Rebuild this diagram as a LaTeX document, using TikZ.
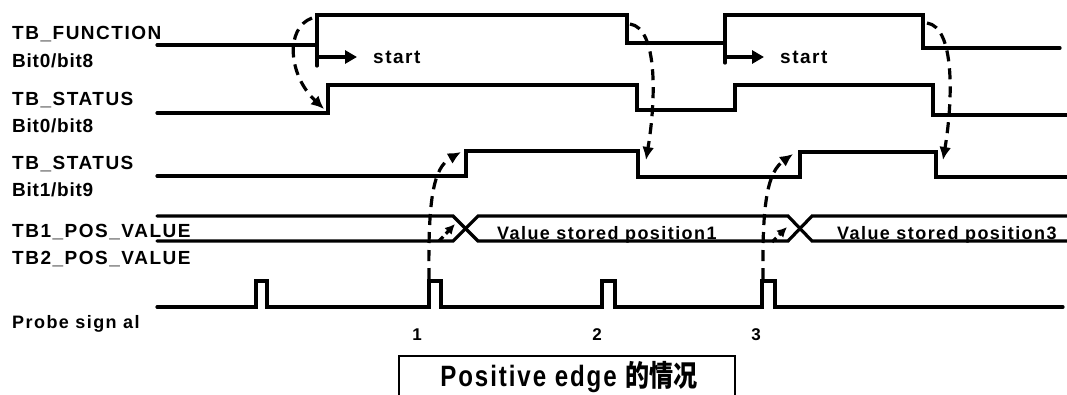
\documentclass[tikz,border=0pt]{standalone}
\usepackage{fontspec}
\newfontfamily\labfont{Liberation Sans}[LetterSpace=8]
\newfontfamily\bitfont{Liberation Sans}[LetterSpace=4]
\newfontfamily\cjkfont{Noto Sans CJK SC}
\usetikzlibrary{arrows.meta}
\tikzset{
  wave/.style={line width=3.2pt, line cap=round, line join=miter},
  dashedarrow/.style={line width=3.2pt, dash pattern=on 11pt off 7pt, -{Latex[length=13pt,width=12pt]}},
  startarrow/.style={line width=3.2pt, -{Triangle[length=12pt,width=13pt]}},
  siglabel/.style={anchor=base west, inner sep=0pt, font=\labfont\bfseries\fontsize{19}{22}\selectfont},
  bitlabel/.style={anchor=base west, inner sep=0pt, font=\bitfont\bfseries\fontsize{19}{22}\selectfont},
  wavetext/.style={anchor=base west, inner sep=0pt, font=\labfont\bfseries\fontsize{18}{22}\selectfont},
  numlabel/.style={anchor=base, inner sep=0pt, font=\labfont\bfseries\fontsize{17}{20}\selectfont},
}
\begin{document}
\begin{tikzpicture}[x=1pt,y=-1pt]
\useasboundingbox (0,0) rectangle (1067,394);

% labels
\node[siglabel] (lf)  at (12,39)  {TB\_FUNCTION};
\node[bitlabel] (lf2) at (12,67)  {Bit0/bit8};
\node[siglabel] (ls0) at (12,105) {TB\_STATUS};
\node[bitlabel] (ls02) at (12,132) {Bit0/bit8};
\node[siglabel] (ls1) at (12,169) {TB\_STATUS};
\node[bitlabel] (ls12) at (12,196) {Bit1/bit9};
\node[siglabel] (lp1) at (12,237) {TB1\_POS\_VALUE};
\node[siglabel] (lp2) at (12,264) {TB2\_POS\_VALUE};
\node[siglabel, font=\labfont\bfseries\fontsize{18}{22}\selectfont] (lpr) at (12,328) {Probe sign al};

% TB_FUNCTION
\draw[wave] (157,45) -- (317,45) -- (317,15) -- (627,15) -- (627,43) -- (725,43) -- (725,15) -- (923,15) -- (923,48) -- (1060,48);
\draw[wave] (317,45) -- (317,66);
\draw[wave] (725,43) -- (725,63);
\coordinate (s1a) at (317,57);
\coordinate (s1b) at (357,57);
\coordinate (s2a) at (725,57);
\coordinate (s2b) at (764,57);
\draw[startarrow] (s1a) -- (s1b);
\draw[startarrow] (s2a) -- (s2b);
\node[wavetext, font=\labfont\bfseries\fontsize{19}{22}\selectfont] (st1) at (373,63) {start};
\node[wavetext, font=\labfont\bfseries\fontsize{19}{22}\selectfont] (st2) at (780,63) {start};

% TB_STATUS bit0
\draw[wave] (157,113) -- (328,113) -- (328,85) -- (637,85) -- (637,110) -- (735,110) -- (735,85) -- (933,85) -- (933,115) -- (1067,115);

% TB_STATUS bit1
\draw[wave] (157,176) -- (466,176) -- (466,151) -- (638,151) -- (638,177) -- (800,177) -- (800,152) -- (936,152) -- (936,177) -- (1067,177);

% POS VALUE bus
\draw[wave] (157,216) -- (453,216) -- (478,241) -- (788,241) -- (812,216) -- (1067,216);
\draw[wave] (157,241) -- (453,241) -- (478,216) -- (788,216) -- (812,241) -- (1067,241);
\node[wavetext] (v1) at (497,239) {Value stored position1};
\node[wavetext] (v3) at (837,239) {Value stored position3};

% Probe signal
\draw[wave] (157,307) -- (256,307) -- (256,281) -- (267,281) -- (267,307)
  -- (429,307) -- (429,281) -- (441,281) -- (441,307)
  -- (602,307) -- (602,281) -- (615,281) -- (615,307)
  -- (762,307) -- (762,281) -- (775,281) -- (775,307) -- (1063,307);
\node[numlabel] (n1) at (417,340) {1};
\node[numlabel] (n2) at (597,340) {2};
\node[numlabel] (n3) at (756,340) {3};

% dashed causal arrows
\coordinate (a1s) at (312,18);
\coordinate (a1e) at (324,109);
\draw[dashedarrow] (a1s) .. controls (285,28) and (288,75) .. (a1e);
\coordinate (a2s) at (630,24);
\coordinate (a2e) at (646,160);
\draw[dashedarrow] (a2s) .. controls (658,28) and (656,100) .. (a2e);
\coordinate (a3s) at (927,23);
\coordinate (a3e) at (943,160);
\draw[dashedarrow] (a3s) .. controls (955,27) and (953,100) .. (a3e);
\coordinate (p1) at (429,279);
\coordinate (p1e) at (461,152);
\draw[dashedarrow] (p1) .. controls (428,200) and (433,168) .. (p1e);
\coordinate (p3) at (763,279);
\coordinate (p3e) at (793,154);
\draw[dashedarrow] (p3) .. controls (762,200) and (768,172) .. (p3e);
\coordinate (c1s) at (439,241);
\coordinate (c1e) at (455,224);
\draw[dashedarrow, dash pattern=on 6pt off 4pt, -{Latex[length=10pt,width=10pt]}] (c1s) -- (c1e);
\coordinate (c3s) at (772,242);
\coordinate (c3e) at (787,227);
\draw[dashedarrow, dash pattern=on 6pt off 4pt, -{Latex[length=10pt,width=10pt]}] (c3s) -- (c3e);

% caption box
\draw[line width=2.6pt] (399,396) -- (399,356) -- (735,356) -- (735,396);
\node[anchor=base, inner sep=0pt] (cap) at (569,386)
  {\scalebox{0.86}[1.05]{\labfont\bfseries\fontsize{28}{30}\selectfont Positive edge {\cjkfont\bfseries 的情况}}};
\end{tikzpicture}
\end{document}
